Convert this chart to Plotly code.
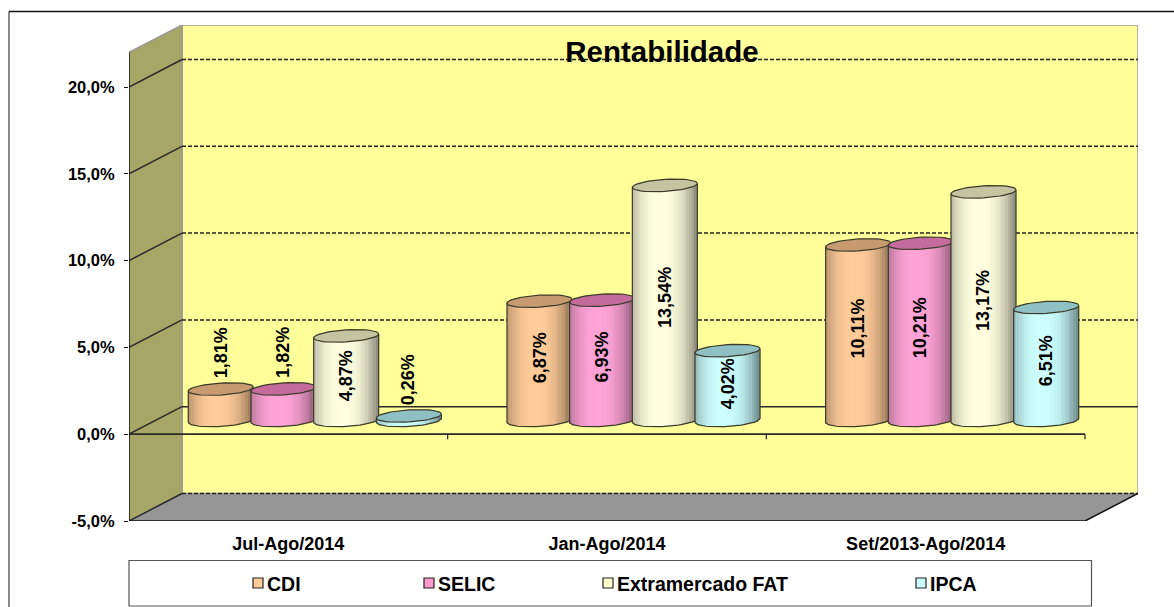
import math
import plotly.graph_objects as go

categories = ["Jul-Ago/2014", "Jan-Ago/2014", "Set/2013-Ago/2014"]
series_names = ["CDI", "SELIC", "Extramercado FAT", "IPCA"]
cdi = [1.81, 6.87, 10.11]
selic = [1.82, 6.93, 10.21]
extramercado = [4.87, 13.54, 13.17]
ipca = [0.26, 4.02, 6.51]
y_ticks = [-5, 0, 5, 10, 15, 20]
y_tick_labels = ["-5,0%", "0,0%", "5,0%", "10,0%", "15,0%", "20,0%"]

body_colors = [(255, 204, 153), (255, 163, 214), (255, 255, 224), (204, 255, 255)]
top_colors = ["#C89A70", "#C46A9C", "#C4C4A0", "#8FC1C4"]
legend_swatches = ["#FFCC99", "#FF99CC", "#FFFFCC", "#CCFFFF"]
series_values = [cdi, selic, extramercado, ipca]

W, H = 1174, 607
L, R, T, B = 129, 1138, 25, 521
XU = (1085 - L) / 3.0
YU = (B - 87) / 25.0
x_range = [-0.5, -0.5 + (R - L) / XU]
y_range = [-5, -5 + (B - T) / YU]
DX = 53 / XU
DY = 27.5 / YU
SPACING = 62.7 / XU
RX = 32.5 / XU
RY = 6 / YU
TILT = 2 / YU
N = 24
TXT = "#000000"
FONT = "Liberation Sans"


def px(x):
    return (x - L) / (R - L)


def py(y):
    return (B - y) / (B - T)


def poly(points):
    return "M " + " L ".join(f"{a},{b}" for a, b in points) + " Z"


def shade(rgb, t):
    f = 1 - 0.48 * min(1.0, abs(t + 0.12) / 1.12) ** 2.4
    return "rgb(%d,%d,%d)" % tuple(round(c * f) for c in rgb)


x0, x1 = -0.5, 2.5
y_top_front = 22.0
y_top_back = y_range[1]
shapes = []
# back wall, side wall, floor
shapes.append(dict(type="path", xref="x", yref="y", layer="below",
                   path=poly([(x0 + DX, -5 + DY), (x1 + DX, -5 + DY), (x1 + DX, y_top_back), (x0 + DX, y_top_back)]),
                   fillcolor="#FFFF99", line=dict(color="#999999", width=1.5)))
shapes.append(dict(type="path", xref="x", yref="y", layer="below",
                   path=poly([(x0, -5), (x0 + DX, -5 + DY), (x0 + DX, y_top_back), (x0, y_top_front)]),
                   fillcolor="#A6A667", line=dict(color="#999999", width=1.5)))
shapes.append(dict(type="path", xref="x", yref="y", layer="below",
                   path=poly([(x0, -5), (x1, -5), (x1 + DX, -5 + DY), (x0 + DX, -5 + DY)]),
                   fillcolor="#969696", line=dict(width=0)))
# grid
for v in y_ticks:
    shapes.append(dict(type="line", xref="x", yref="y", layer="below", x0=x0, y0=v, x1=x0 + DX, y1=v + DY,
                       line=dict(color="#2A2A2A", width=1.5)))
    shapes.append(dict(type="line", xref="x", yref="y", layer="below", x0=x0 + DX, y0=v + DY, x1=x1 + DX, y1=v + DY,
                       line=dict(color="#2A2A2A" if v == 0 else "#222222", width=1.5,
                                 dash="solid" if v == 0 else "4px,2px")))
# front zero axis with ticks
shapes.append(dict(type="line", xref="x", yref="y", layer="below", x0=x0, y0=0, x1=x1, y1=0,
                   line=dict(color="#2A2A2A", width=1.7)))
for k in range(4):
    shapes.append(dict(type="line", xref="x", yref="y", layer="below", x0=x0 + k, y0=0, x1=x0 + k, y1=-5 / YU,
                       line=dict(color="#222222", width=1.2)))
# front edges
shapes.append(dict(type="line", xref="x", yref="y", x0=x0, y0=-5, x1=x1, y1=-5, line=dict(color="#111111", width=1.5)))
shapes.append(dict(type="line", xref="x", yref="y", x0=x1, y0=-5, x1=x1 + DX, y1=-5 + DY, line=dict(color="#111111", width=1.5)))
shapes.append(dict(type="line", xref="x", yref="y", x0=x0, y0=-5, x1=x0, y1=y_top_front, line=dict(color="#111111", width=1.5)))

# chart frame (paper coordinates)
shapes.append(dict(type="line", xref="paper", yref="paper", x0=px(9), y0=py(11.5), x1=px(9), y1=py(607), line=dict(color="#666666", width=1.5)))
shapes.append(dict(type="line", xref="paper", yref="paper", x0=px(9), y0=py(11.5), x1=px(1174), y1=py(11.5), line=dict(color="#111111", width=1.5)))
# legend box
shapes.append(dict(type="rect", xref="paper", yref="paper", x0=px(129), y0=py(560.5), x1=px(1091.5), y1=py(606), fillcolor="#FFFFFF", line=dict(color="#555555", width=1.2)))

fig = go.Figure()
annotations = []
for i, (name, vals) in enumerate(zip(series_names, series_values)):
    xs, bases, heights, widths, colors = [], [], [], [], []
    ex, ey, ox, oy = [], [], [], []
    for c, v in enumerate(vals):
        cx = c + DX / 2 + (i - 1.5) * SPACING
        base0 = DY / 2
        top = base0 + v
        for s in range(N):
            t = -1 + (2 * s + 1) / N
            xs.append(cx + t * RX)
            lo = base0 + TILT * t - RY * math.sqrt(max(0.0, 1 - t * t))
            hi = top + TILT * t
            bases.append(lo)
            heights.append(hi - lo)
            widths.append(2 * RX / N * 1.15)
            colors.append(shade(body_colors[i], t))
        for k in range(49):
            a = 2 * math.pi * k / 48
            ex.append(cx + RX * math.cos(a))
            ey.append(top + RY * math.sin(a) + TILT * math.cos(a))
        ex.append(None)
        ey.append(None)
        ox.append(cx - RX)
        oy.append(top - TILT)
        for k in range(25):
            t = -1 + 2 * k / 24
            ox.append(cx + t * RX)
            oy.append(base0 + TILT * t - RY * math.sqrt(max(0.0, 1 - t * t)))
        ox.append(cx + RX)
        oy.append(top + TILT)
        ox.append(None)
        oy.append(None)
        if v >= 2:
            ly = base0 + v / 2 * 1.05
        else:
            ly = top + 2.1
        annotations.append(dict(x=cx, y=ly, xref="x", yref="y", showarrow=False,
                                text=f"{v:.2f}".replace(".", ",") + "%", textangle=-90,
                                font=dict(family=FONT, size=18, color=TXT, weight=700)))
    fig.add_trace(go.Bar(x=xs, y=heights, base=bases, width=widths, marker=dict(color=colors, line=dict(width=0)),
                         name=name, showlegend=False, hoverinfo="skip", zorder=2 * i))
    fig.add_trace(go.Scatter(x=ox, y=oy, mode="lines", line=dict(color="#3A3A2A", width=1.2), showlegend=False,
                             hoverinfo="skip", zorder=2 * i + 1))
    fig.add_trace(go.Scatter(x=ex, y=ey, mode="lines", fill="toself", fillcolor=top_colors[i],
                             line=dict(color="#3A3A2A", width=1.2), showlegend=False, hoverinfo="skip", zorder=2 * i + 1))

# legend contents
legend_x = [253, 424, 603, 916]
for i, name in enumerate(series_names):
    shapes.append(dict(type="rect", xref="paper", yref="paper", x0=px(legend_x[i]), y0=py(578), x1=px(legend_x[i] + 10), y1=py(588),
                       fillcolor=legend_swatches[i], line=dict(color="#222222", width=1.2)))
    annotations.append(dict(x=px(legend_x[i] + 12), y=py(584), xref="paper", yref="paper", xanchor="left", yanchor="middle",
                            showarrow=False, text=name, font=dict(family=FONT, size=19.5, color=TXT, weight=700)))

fig.update_layout(
    width=W, height=H, autosize=False,
    margin=dict(l=L, r=W - R, t=T, b=H - B, pad=0),
    paper_bgcolor="#FFFFFF", plot_bgcolor="rgba(0,0,0,0)",
    barmode="overlay", bargap=0, showlegend=False,
    title=dict(text="Rentabilidade", x=662 / W, xref="container", xanchor="center", y=1 - 52 / H, yref="container", yanchor="middle",
               font=dict(family=FONT, size=29.5, color=TXT, weight=700)),
    xaxis=dict(range=x_range, tickmode="array", tickvals=[0, 1, 2], ticktext=categories, ticks="", showgrid=False,
               zeroline=False, showline=False, ticklabelstandoff=10,
               tickfont=dict(family=FONT, size=18, color=TXT, weight=700)),
    yaxis=dict(range=y_range, tickmode="array", tickvals=y_ticks, ticktext=y_tick_labels, ticks="outside", ticklen=4,
               tickcolor="#111111", tickwidth=1.2, showgrid=False, zeroline=False, showline=False, ticklabelstandoff=6,
               tickfont=dict(family=FONT, size=16.5, color=TXT, weight=700)),
    shapes=shapes, annotations=annotations,
)

fig.write_html("out.html", config={"displayModeBar": False},
               post_script="document.body.style.margin='0';document.body.style.overflow='hidden';")
